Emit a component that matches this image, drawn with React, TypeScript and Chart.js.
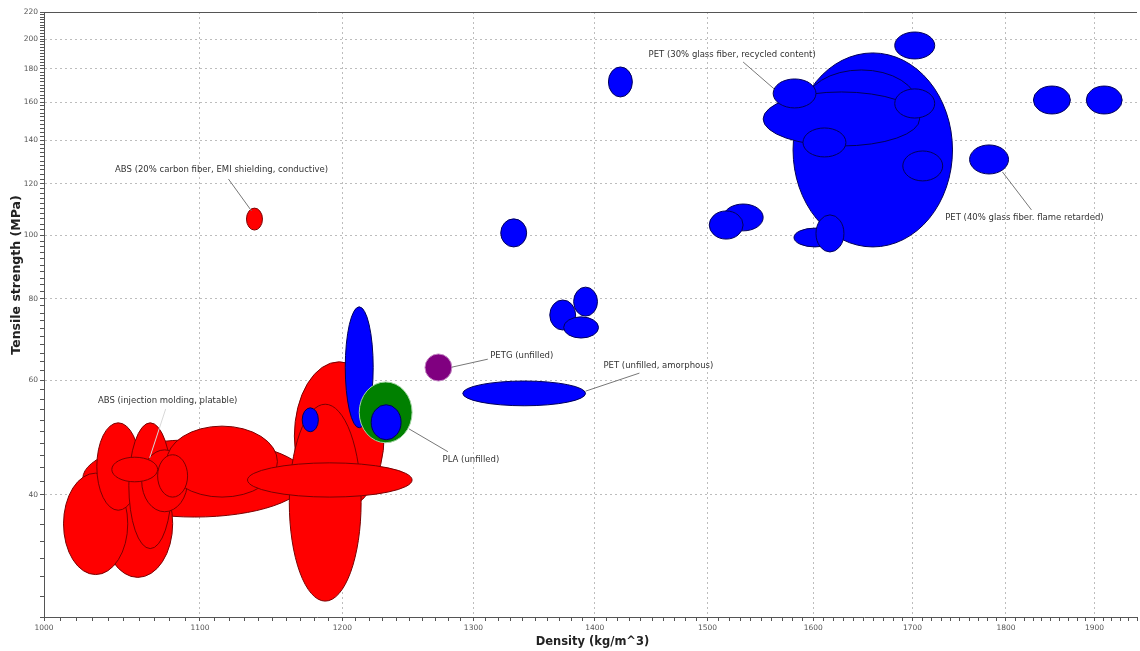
import React, { useEffect, useRef } from "react";
import { Chart, registerables } from "chart.js";

Chart.register(...registerables);

// [density lo, density hi, strength lo, strength hi]
type Range = [number, number, number, number];

const densityTickLabels = [1000, 1100, 1200, 1300, 1400, 1500, 1600, 1700, 1800, 1900];
const strengthTickLabels = [40, 60, 80, 100, 120, 140, 160, 180, 200, 220];
const densityMin = 1000;
const densityMax = 1950;
const densityMinorStep = 10;
const strengthMin = 26;
const strengthMax = 220;
const strengthMinorStep = 2;

const absRanges: Range[] = [
  [1024, 1174, 37.0, 48.6],
  [1036.6, 1081.8, 29.9, 43.7],
  [1012, 1052.5, 30.2, 43.2],
  [1032.8, 1060.2, 37.9, 51.6],
  [1053.2, 1081.1, 33.1, 51.6],
  [1061.5, 1091.7, 37.7, 46.9],
  [1077.8, 1153.3, 39.7, 51.0],
  [1042.3, 1071.9, 41.9, 45.7],
  [1071.9, 1091.7, 39.7, 46.1],
  [1165.3, 1231, 37.9, 64.0],
  [1161.7, 1213.8, 27.5, 55.1],
  [1132.4, 1252.2, 39.7, 44.8],
  [1131.7, 1142.8, 101.9, 110.1],
];

const petLowRanges: Range[] = [
  [1202.1, 1222.8, 50.7, 77.7],
  [1170.9, 1182.5, 50.0, 54.4],
];

const plaRanges: Range[] = [[1212.4, 1252.2, 48.1, 59.6]];

const petRanges: Range[] = [
  [1221.3, 1243.8, 48.6, 55.0],
  [1291.6, 1392.2, 54.8, 59.8],
  [1362.1, 1383.8, 71.6, 79.6],
  [1373.7, 1403.3, 69.6, 75.0],
  [1382.1, 1402.4, 75.2, 83.3],
  [1321.9, 1343.0, 96.0, 106.0],
  [1411.8, 1432.6, 163.0, 181.2],
  [1580.4, 1742.1, 96.0, 190.4],
  [1592.0, 1705.5, 140.0, 179.3],
  [1551.8, 1707.5, 137.1, 165.9],
  [1681.7, 1723.3, 151.3, 167.7],
  [1590.0, 1632.3, 131.9, 146.1],
  [1690.0, 1731.7, 121.2, 134.7],
  [1561.3, 1602.7, 156.8, 173.7],
  [1681.7, 1723.3, 186.4, 205.0],
  [1581.3, 1622.3, 96.0, 102.6],
  [1602.7, 1630.3, 94.3, 107.5],
  [1760.4, 1802.8, 124.2, 137.6],
  [1830.4, 1872.2, 153.5, 169.4],
  [1890.5, 1932.4, 153.5, 169.4],
  [1514.4, 1551.8, 101.6, 111.7],
  [1501.5, 1532.9, 98.7, 109.0],
];

const petgRanges: Range[] = [[1262.1, 1283.0, 59.8, 65.8]];

const annotationTexts = [
  "ABS (20% carbon fiber, EMI shielding, conductive)",
  "ABS (injection molding, platable)",
  "PETG (unfilled)",
  "PET (unfilled, amorphous)",
  "PLA (unfilled)",
  "PET (30% glass fiber, recycled content)",
  "PET (40% glass fiber. flame retarded)",
];
// text centre [density, strength]
const annotationAt: [number, number][] = [
  [1114.6, 126.0],
  [1078.5, 55.7],
  [1339.0, 65.3],
  [1455.6, 63.1],
  [1298.0, 45.3],
  [1522.7, 189.0],
  [1820.4, 106.3],
];
// leader line [d1, s1, d2, s2]
const annotationLeaders: [number, number, number, number][] = [
  [1119.3, 122.0, 1135.2, 109.0],
  [1077.2, 54.2, 1066.7, 45.6],
  [1283.0, 62.8, 1311.5, 64.6],
  [1392.2, 57.7, 1438.8, 61.5],
  [1249.9, 50.5, 1279.9, 46.6],
  [1532.9, 184.4, 1562.2, 167.7],
  [1796.1, 125.1, 1828.2, 109.4],
];
const leaderColors = ["#777", "#d8d8d8", "#777", "#777", "#777", "#777", "#777"];

const centers = (rs: Range[]) =>
  rs.map((r) => ({ x: Math.sqrt(r[0] * r[1]), y: Math.sqrt(r[2] * r[3]) }));

const makeSet = (label: string, rs: Range[], fill: string, stroke: string) => ({
  label,
  data: centers(rs),
  ranges: rs,
  fillCol: fill,
  strokeCol: stroke,
  pointRadius: 0,
  pointHoverRadius: 0,
});

const ellipsePlugin = {
  id: "ellipses",
  afterDatasetsDraw(chart: any) {
    const { ctx, chartArea, scales } = chart;
    const xs = scales.x;
    const ys = scales.y;
    ctx.save();
    ctx.beginPath();
    ctx.rect(chartArea.left, chartArea.top, chartArea.right - chartArea.left, chartArea.bottom - chartArea.top);
    ctx.clip();
    chart.data.datasets.forEach((ds: any) => {
      ds.ranges.forEach((r: Range) => {
        const x1 = xs.getPixelForValue(r[0]);
        const x2 = xs.getPixelForValue(r[1]);
        const y1 = ys.getPixelForValue(r[2]);
        const y2 = ys.getPixelForValue(r[3]);
        ctx.beginPath();
        ctx.ellipse((x1 + x2) / 2, (y1 + y2) / 2, Math.abs(x2 - x1) / 2, Math.abs(y2 - y1) / 2, 0, 0, Math.PI * 2);
        ctx.fillStyle = ds.fillCol;
        ctx.fill();
        ctx.lineWidth = 1;
        ctx.strokeStyle = ds.strokeCol;
        ctx.stroke();
      });
    });
    ctx.restore();
  },
  afterDraw(chart: any) {
    const { ctx, chartArea, scales } = chart;
    const xs = scales.x;
    const ys = scales.y;
    ctx.save();
    // top frame line
    ctx.strokeStyle = "#555";
    ctx.lineWidth = 1;
    ctx.beginPath();
    ctx.moveTo(chartArea.left, chartArea.top + 0.5);
    ctx.lineTo(chartArea.right, chartArea.top + 0.5);
    ctx.stroke();
    // annotations
    annotationLeaders.forEach((l, i) => {
      ctx.beginPath();
      ctx.moveTo(xs.getPixelForValue(l[0]), ys.getPixelForValue(l[1]));
      ctx.lineTo(xs.getPixelForValue(l[2]), ys.getPixelForValue(l[3]));
      ctx.strokeStyle = leaderColors[i];
      ctx.lineWidth = 1;
      ctx.stroke();
    });
    ctx.font = '8.5px "DejaVu Sans"';
    ctx.fillStyle = "#333";
    ctx.textAlign = "center";
    ctx.textBaseline = "middle";
    annotationTexts.forEach((t, i) => {
      ctx.fillText(t, xs.getPixelForValue(annotationAt[i][0]), ys.getPixelForValue(annotationAt[i][1]));
    });
    // axis titles
    ctx.fillStyle = "#222";
    ctx.font = 'bold 11.5px "DejaVu Sans"';
    ctx.fillText("Density (kg/m^3)", (chartArea.left + chartArea.right) / 2 + 2, 642);
    ctx.font = 'bold 12.5px "DejaVu Sans"';
    ctx.translate(17, 275);
    ctx.rotate(-Math.PI / 2);
    ctx.fillText("Tensile strength (MPa)", 0, 0);
    ctx.restore();
  },
};

const gridColor = (labels: number[]) => (c: any) =>
  c.tick && labels.includes(c.tick.value) ? "#bdbdbd" : "rgba(0,0,0,0)";

export default function App() {
  const ref = useRef<HTMLCanvasElement>(null);
  useEffect(() => {
    const densityAll: number[] = [];
    for (let v = densityMin; v <= densityMax; v += densityMinorStep) densityAll.push(v);
    const strengthAll: number[] = [];
    for (let v = strengthMin; v <= strengthMax; v += strengthMinorStep) strengthAll.push(v);
    const tickFont = { family: "DejaVu Sans", size: 7.5 };
    const chart = new Chart(ref.current as HTMLCanvasElement, {
      type: "scatter",
      data: {
        datasets: [
          makeSet("ABS", absRanges, "#ff0000", "#7a0000"),
          makeSet("PET", petLowRanges, "#0000ff", "#00005a"),
          makeSet("PLA", plaRanges, "#008000", "#9fd39f"),
          makeSet("PET", petRanges, "#0000ff", "#00005a"),
          makeSet("PETG", petgRanges, "#800080", "#c38ac3"),
        ] as any,
      },
      options: {
        responsive: false,
        animation: false,
        events: [],
        layout: { padding: { top: 12, left: 0, right: 0, bottom: 0 } },
        plugins: { legend: { display: false }, tooltip: { enabled: false } },
        scales: {
          x: {
            type: "logarithmic",
            min: densityMin,
            max: densityMax,
            afterBuildTicks: (s: any) => {
              s.ticks = densityAll.map((v) => ({ value: v }));
            },
            afterFit: (s: any) => {
              s.height = 34;
            },
            ticks: {
              autoSkip: false,
              maxRotation: 0,
              minRotation: 0,
              padding: 3,
              color: "#555",
              font: tickFont,
              callback: (v: any) => (densityTickLabels.includes(Number(v)) ? String(v) : ""),
            },
            grid: { color: gridColor(densityTickLabels), tickColor: "#555", tickLength: 4, lineWidth: 1 },
            border: { color: "#555", width: 1, dash: [2, 3] },
          },
          y: {
            type: "logarithmic",
            min: strengthMin,
            max: strengthMax,
            afterBuildTicks: (s: any) => {
              s.ticks = strengthAll.map((v) => ({ value: v }));
            },
            afterFit: (s: any) => {
              s.width = 44;
            },
            ticks: {
              autoSkip: false,
              padding: 2,
              color: "#555",
              font: tickFont,
              callback: (v: any) => (strengthTickLabels.includes(Number(v)) ? String(v) : ""),
            },
            grid: { color: gridColor(strengthTickLabels), tickColor: "#555", tickLength: 4, lineWidth: 1 },
            border: { color: "#555", width: 1, dash: [2, 3] },
          },
        },
      } as any,
      plugins: [ellipsePlugin],
    });
    return () => chart.destroy();
  }, []);
  return (
    <div style={{ position: "absolute", left: 0, top: 0, width: 1140, height: 651, background: "#fff" }}>
      <canvas ref={ref} width={1140} height={651} style={{ display: "block" }} />
    </div>
  );
}
